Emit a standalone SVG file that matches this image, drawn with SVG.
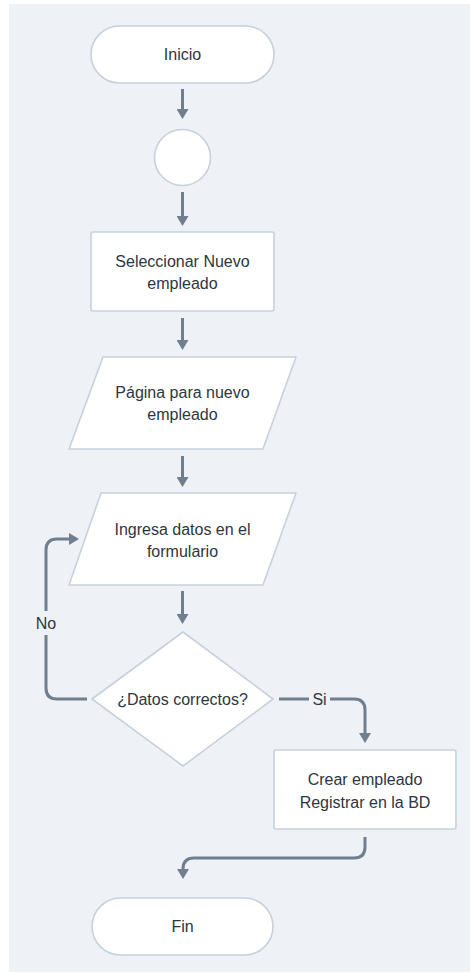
<svg xmlns="http://www.w3.org/2000/svg" width="470" height="973" viewBox="0 0 470 973">
  <style>
    .node { fill: #ffffff; stroke: #c6d1dc; stroke-width: 1.6; }
    .lbl { font-family: "Liberation Sans", Arial, sans-serif; font-size: 16px; fill: #2c3641; text-anchor: middle; dominant-baseline: central; }
    .edge { fill: none; stroke: #6f7f8f; stroke-width: 3; }
    .elbl { font-family: "Liberation Sans", Arial, sans-serif; font-size: 16px; fill: #2c3641; text-anchor: middle; dominant-baseline: central; }
  </style>
  <defs>
    <marker id="arrow" viewBox="0 0 10 12" refX="4" refY="6" markerWidth="10" markerHeight="12" markerUnits="userSpaceOnUse" orient="auto">
      <path d="M0,0 L10,6 L0,12 z" fill="#6f7f8f"/>
    </marker>
  </defs>

  <!-- canvas -->
  <rect x="9" y="4" width="461" height="968" fill="#eef2f6"/>

  <!-- connectors -->
  <g id="connectors">
    <path class="edge" d="M182.5,89 V113" marker-end="url(#arrow)"/>
    <path class="edge" d="M182.5,192 V220" marker-end="url(#arrow)"/>
    <path class="edge" d="M182.5,318 V344" marker-end="url(#arrow)"/>
    <path class="edge" d="M182.5,456 V481" marker-end="url(#arrow)"/>
    <path class="edge" d="M182.5,591 V618" marker-end="url(#arrow)"/>
    <!-- No branch loops back to the form input -->
    <path class="edge" d="M87,699 H57 Q46,699 46,688 V635"/>
    <path class="edge" d="M46,611 V550 Q46,539 57,539 H73" marker-end="url(#arrow)"/>
    <text class="elbl" x="46" y="623">No</text>
    <!-- Si branch -->
    <path class="edge" d="M279,699 H309"/>
    <path class="edge" d="M330,699 H354 Q365,699 365,710 V737" marker-end="url(#arrow)"/>
    <text class="elbl" x="319.5" y="699">Si</text>
    <!-- to end -->
    <path class="edge" d="M365,837 V847 Q365,858 354,858 H194 Q183,858 183,869 V873" marker-end="url(#arrow)"/>
  </g>

  <g id="inicio">
    <rect class="node" x="91" y="26" width="183" height="57" rx="28.5"/>
    <text class="lbl" x="182.5" y="54.5">Inicio</text>
  </g>

  <g id="conector">
    <circle class="node" cx="182.5" cy="157.5" r="28"/>
  </g>

  <g id="seleccionar">
    <rect class="node" x="91" y="232" width="183" height="79" rx="2"/>
    <text class="lbl" x="182.5" y="261">Seleccionar Nuevo</text>
    <text class="lbl" x="182.5" y="283">empleado</text>
  </g>

  <g id="pagina">
    <path class="node" d="M103,357 H296 L263,449 H69 Z" stroke-linejoin="round"/>
    <text class="lbl" x="182.5" y="392">Página para nuevo</text>
    <text class="lbl" x="182.5" y="414">empleado</text>
  </g>

  <g id="ingresa">
    <path class="node" d="M101,493 H296 L263,585 H69 Z" stroke-linejoin="round"/>
    <text class="lbl" x="182.5" y="529">Ingresa datos en el</text>
    <text class="lbl" x="182.5" y="551">formulario</text>
  </g>

  <g id="decision">
    <path class="node" d="M183,632 L273,699 L183,766 L92,699 Z" stroke-linejoin="round"/>
    <text class="lbl" x="182.5" y="699">¿Datos correctos?</text>
  </g>

  <g id="crear">
    <rect class="node" x="274" y="750" width="182" height="79" rx="2"/>
    <text class="lbl" x="365" y="779">Crear empleado</text>
    <text class="lbl" x="365" y="802">Registrar en la BD</text>
  </g>

  <g id="fin">
    <rect class="node" x="92" y="898" width="181" height="57" rx="28.5"/>
    <text class="lbl" x="182.5" y="926.5">Fin</text>
  </g>
</svg>
